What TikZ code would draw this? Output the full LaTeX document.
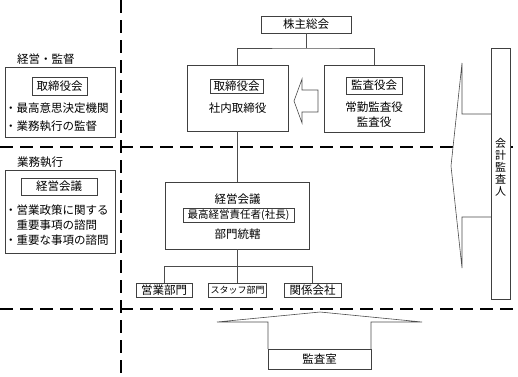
\documentclass[tikz,border=0pt]{standalone}
\usepackage{fontspec}
\setmainfont{Noto Sans CJK JP}
\usetikzlibrary{positioning, calc}

\begin{document}
\begin{tikzpicture}[
        x=1pt, y=-1pt,
        box/.style={
            rectangle, draw=black!75, line width=0.6pt, fill=white,
            inner sep=0pt, font=\fontsize{11.5}{13.5}\selectfont
        },
        tag/.style={
            rectangle, draw=black!75, line width=0.6pt,
            inner sep=0pt, font=\fontsize{11.5}{13.5}\selectfont
        },
        txt/.style={
            inner sep=0pt, font=\fontsize{11.5}{13.5}\selectfont
        },
        line/.style={
            draw=black!70, line width=0.6pt
        },
        zone/.style={
            draw=black, line width=1.6pt, dash pattern=on 13pt off 7pt
        }
    ]
        \useasboundingbox (0,0) rectangle (518,376);

        % Zone borders
        \draw [zone] (121,0) -- (121,376);
        \draw [zone] (0,147) -- (518,147);
        \draw [zone] (0,309) -- (518,309);

        % Left legend
        \node (lblSup) [txt, anchor=west] at (17,59) {経営・監督};
        \node (legBoard) [box, minimum width=110pt, minimum height=70pt] at (60,102) {};
        \node (legBoardTag) [tag, minimum width=55pt, minimum height=18pt] at (59.5,86) {取締役会};
        \node [txt, anchor=west] at (5,108) {・最高意思決定機関};
        \node [txt, anchor=west] at (5,126) {・業務執行の監督};

        \node (lblExec) [txt, anchor=west] at (17,162) {業務執行};
        \node (legMgmt) [box, minimum width=110pt, minimum height=83pt] at (60,211.5) {};
        \node (legMgmtTag) [tag, minimum width=76pt, minimum height=17pt] at (59,186.5) {経営会議};
        \node [txt, anchor=west] at (5,210) {・営業政策に関する};
        \node [txt, anchor=west] at (16.5,225) {重要事項の諮問};
        \node [txt, anchor=west] at (5,240) {・重要な事項の諮問};

        % Organisation nodes
        \node (agm) [box, minimum width=90pt, minimum height=17pt] at (306,24.5) {株主総会};

        \node (board) [box, minimum width=101pt, minimum height=66pt] at (237.5,98) {};
        \node (boardTag) [tag, minimum width=53pt, minimum height=14pt] at (236.5,86) {取締役会};
        \node (boardTxt) [txt] at (237.5,108) {社内取締役};

        \node (audit) [box, minimum width=100pt, minimum height=67pt] at (374,98.5) {};
        \node (auditTag) [tag, minimum width=56pt, minimum height=17pt] at (374,85.5) {監査役会};
        \node (auditTxt) [txt, align=center] at (374,114.5) {常勤監査役\\[1pt]監査役};

        \node (mgmt) [box, minimum width=144pt, minimum height=67pt] at (237.5,215.5) {};
        \node (mgmtTxt) [txt] at (237.5,199) {経営会議};
        \node (ceo) [tag, minimum width=111pt, minimum height=14pt, inner xsep=1pt, font=\fontsize{10.5}{12}\selectfont] at (238.5,215) {最高経営責任者(社長)};
        \node (mgmtSub) [txt] at (237.5,234) {部門統轄};

        \node (sales) [box, minimum width=56pt, minimum height=14pt] at (164,290) {営業部門};
        \node (staff) [box, minimum width=58pt, minimum height=14pt, font=\fontsize{9}{11}\selectfont] at (237.5,290) {スタッフ部門};
        \node (affil) [box, minimum width=57pt, minimum height=14pt] at (312.5,290) {関係会社};

        % Connectors
        \coordinate (j1) at (306,48);
        \coordinate (j2) at (237.5,266);
        \draw [line] (agm.south) -- (j1);
        \draw [line] (board.north) |- (j1) -| (audit.north);
        \draw [line] (board.south) -- (mgmt.north);
        \draw [line] (mgmt.south) -- (j2);
        \draw [line] (sales.north) |- (j2) -| (affil.north);
        \draw [line] (j2) -- (staff.north);

        % Audit arrows
        \draw [line] (318,90) -- (302,90) -- (302,79) -- (294,101) -- (302,123) -- (302,112) -- (318,112) -- cycle;

        \fill [white] (491,114) -- (462,114) -- (462,63) -- (451,166) -- (462,268) -- (462,217) -- (491,217) -- cycle;
        \draw [line] (491,114) -- (462,114) -- (462,63) -- (451,166) -- (462,268) -- (462,217) -- (491,217);
        \node (cpa) [box, minimum width=19pt, minimum height=251pt] at (500.5,173.5) {};
        \node (cpaTxt) [txt, align=center, font=\fontsize{11}{12}\selectfont] at (500.5,167) {会\\計\\監\\査\\人};

        \draw [line] (268,349) -- (268,322) -- (217,322) -- (320,312) -- (422,322) -- (371,322) -- (371,349);
        \node (iad) [box, minimum width=103pt, minimum height=20pt] at (319.5,359) {監査室};
    \end{tikzpicture}
\end{document}
